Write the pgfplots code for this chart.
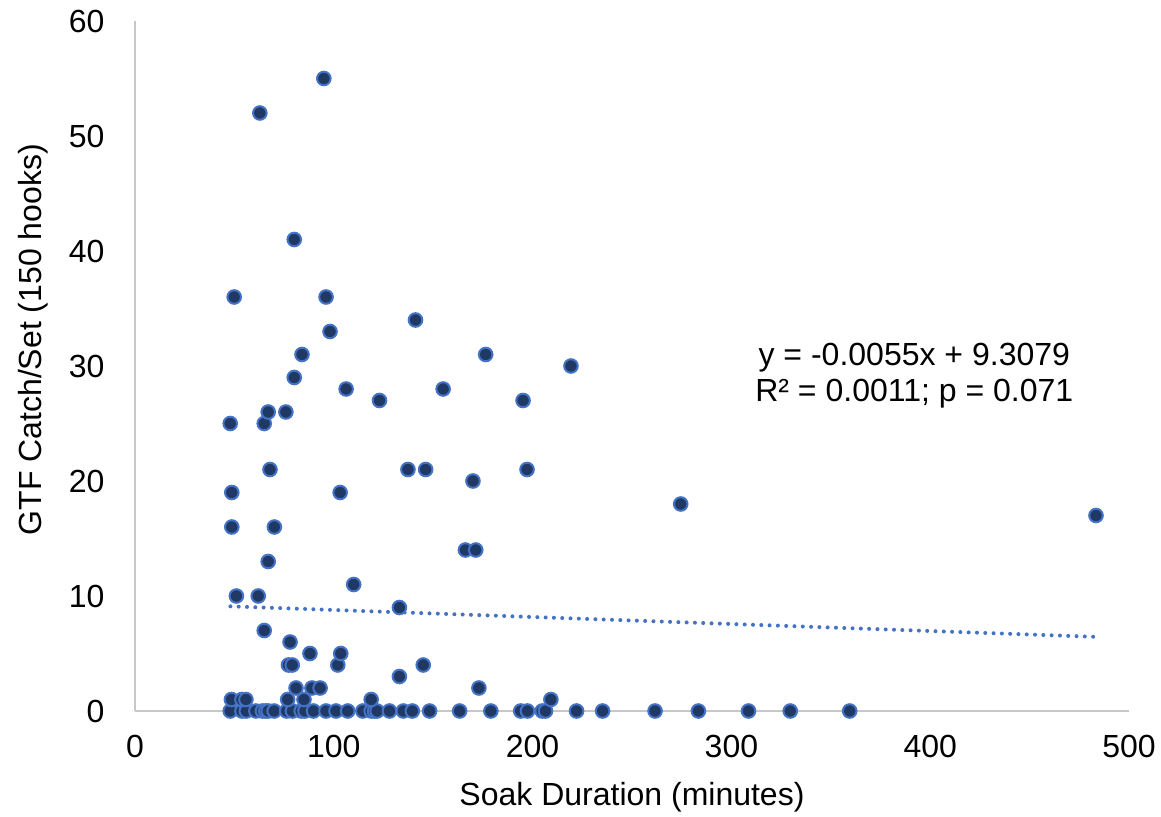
\documentclass[border=0pt]{standalone}
\usepackage{fontspec}
\setmainfont{Liberation Sans}
\usepackage{pgfplots}
\pgfplotsset{compat=1.18}
\definecolor{markfill}{HTML}{203864}
\definecolor{markedge}{HTML}{4472C4}
\definecolor{axisgray}{HTML}{C8C8C8}
\begin{document}
\begin{tikzpicture}
\begin{axis}[
  scale only axis, width=994pt, height=690pt,
  xmin=0, xmax=500, ymin=0, ymax=60,
  xtick={0,100,...,500}, ytick={0,10,...,60},
  axis lines*=left,
  axis line style={axisgray, line width=2pt},
  major tick length=0pt,
  /pgf/number format/assume math mode=true,
  tick label style={font=\fontsize{32}{38}\selectfont},
  xticklabel style={yshift=-21pt},
  yticklabel style={xshift=-27pt},
  label style={font=\fontsize{32}{38}\selectfont},
  xlabel={Soak Duration (minutes)},
  ylabel={GTF Catch/Set (150 hooks)},
  xlabel style={at={(axis description cs:0.5,-0.1246)}, anchor=center},
  ylabel style={at={(axis description cs:-0.1026,0.538)}, anchor=center},
  clip=false,
]
\addplot[only marks, mark=*, mark size=6.8pt,
  mark options={fill=markfill, draw=markedge, line width=2pt}] table {
x y
47.9 0
53.8 0
56.0 0
60.8 0
64.1 0
65.8 0
67.0 0
70.0 0
76.3 0
79.2 0
83.6 0
85.5 0
89.8 0
96.1 0
101.1 0
107.0 0
114.6 0
118.8 0
120.5 0
121.8 0
128.0 0
135.0 0
139.5 0
148.2 0
163.3 0
179.0 0
194.0 0
197.4 0
204.8 0
206.5 0
222.1 0
235.2 0
261.6 0
283.4 0
308.6 0
329.6 0
359.5 0
48.5 1
53.8 1
55.8 1
76.8 1
85.0 1
118.8 1
209.2 1
81.0 2
89.0 2
93.1 2
173.0 2
133.0 3
77.2 4
79.1 4
102.0 4
145.0 4
88.0 5
103.5 5
78.0 6
65.0 7
133.0 9
51.0 10
62.0 10
110.0 11
67.0 13
166.2 14
171.4 14
48.7 16
70.1 16
483.4 17
274.5 18
48.7 19
103.2 19
170.0 20
67.9 21
137.3 21
146.2 21
197.2 21
47.9 25
65.0 25
67.0 26
75.9 26
123.0 27
195.2 27
106.2 28
155.0 28
80.1 29
219.3 30
84.0 31
176.4 31
98.1 33
141.1 34
49.9 36
96.1 36
80.1 41
62.8 52
95.0 55
};
\addplot[markedge, line width=4pt, dash pattern=on 0pt off 8.3pt, line cap=round]
  coordinates {(48,9.1) (483,6.45)};
\node[align=center, font=\fontsize{32}{36}\selectfont] at (axis cs:392,29.2)
  {y = -0.0055x + 9.3079\\R² = 0.0011; p = 0.071};
\end{axis}
\path[use as bounding box] (-135pt,-105pt) rectangle (1026pt,711pt);
\end{tikzpicture}
\end{document}
